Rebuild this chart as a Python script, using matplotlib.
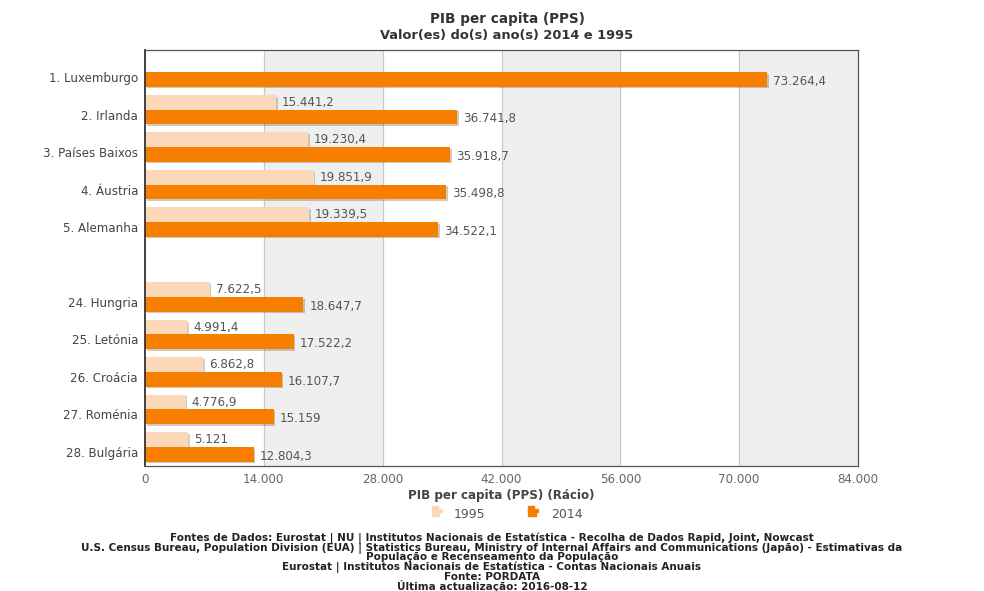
import matplotlib.pyplot as plt
import matplotlib.patheffects as pe
from matplotlib.patches import Patch, Rectangle
from matplotlib.legend_handler import HandlerBase

countries = ['1. Luxemburgo', '2. Irlanda', '3. Países Baixos', '4. Áustria',
             '5. Alemanha', '', '24. Hungria', '25. Letónia', '26. Croácia',
             '27. Roménia', '28. Bulgária']
v1995 = [None, 15441.2, 19230.4, 19851.9, 19339.5, None,
         7622.5, 4991.4, 6862.8, 4776.9, 5121.0]
v2014 = [73264.4, 36741.8, 35918.7, 35498.8, 34522.1, None,
         18647.7, 17522.2, 16107.7, 15159.0, 12804.3]
x_ticks = [0, 14000, 28000, 42000, 56000, 70000, 84000]

C1995 = '#fcd8bb'
C2014 = '#f77f00'
TXT = '#555555'

footer = [
    'Fontes de Dados: Eurostat | NU | Institutos Nacionais de Estatística - Recolha de Dados Rapid, Joint, Nowcast',
    'U.S. Census Bureau, Population Division (EUA) | Statistics Bureau, Ministry of Internal Affairs and Communications (Japão) - Estimativas da',
    'População e Recenseamento da População',
    'Eurostat | Institutos Nacionais de Estatística - Contas Nacionais Anuais',
    'Fonte: PORDATA',
    'Última actualização: 2016-08-12',
]


def fmt(v):
    # portuguese number format: 73.264,4 / 15.159
    s = f'{v:,.1f}'.replace(',', ' ').replace('.', ',').replace(' ', '.')
    if s.endswith(',0'):
        s = s[:-2]
    return s


class BarIcon(HandlerBase):
    # small stacked-bars icon like the highcharts legend
    def create_artists(self, legend, orig, xd, yd, w, h, fontsize, trans):
        c = orig.get_facecolor()
        out = []
        for frac, k in [(0.6, 2), (1.0, 1), (0.75, 0)]:
            out.append(Rectangle((xd, yd + k * h / 3), w * frac, h / 3 * 0.8,
                                 color=c, transform=trans))
        return out


fig = plt.figure(figsize=(9.84, 5.91), dpi=100)
ax = fig.add_axes([145 / 984, 1 - 466 / 591, 713 / 984, 416 / 591])

# alternating bands
for i in range(1, len(x_ticks) - 1, 2):
    ax.axvspan(x_ticks[i], x_ticks[i + 1], color='#efefef', zorder=0)
for t in x_ticks[1:-1]:
    ax.axvline(t, color='#c8c8c8', lw=0.8, zorder=0.5)

shadow = [pe.SimplePatchShadow(offset=(1.2, -1.2), alpha=0.25), pe.Normal()]
h = 0.39
for i, (a, b) in enumerate(zip(v1995, v2014)):
    if a is not None:
        ax.barh(i - h / 2, a, height=h, color=C1995, zorder=2, path_effects=shadow)
        ax.text(a + 700, i - h / 2, fmt(a), va='center', ha='left',
                fontsize=8.6, color=TXT, zorder=3)
    if b is not None:
        ax.barh(i + h / 2, b, height=h, color=C2014, zorder=2, path_effects=shadow)
        ax.text(b + 700, i + h / 2 + 0.05, fmt(b), va='center', ha='left',
                fontsize=8.6, color=TXT, zorder=3)

ax.set_ylim(len(countries) - 0.49, -0.59)
ax.set_yticks(range(len(countries)))
ax.set_yticklabels(countries, fontsize=8.6, color='#444444')
for lab in ax.get_yticklabels():
    lab.set_va('top')
ax.set_xlim(0, 84000)
ax.set_xticks(x_ticks)
ax.set_xticklabels([fmt(t) for t in x_ticks], fontsize=8.6, color='#666666')
ax.tick_params(axis='y', length=0, pad=5)
ax.tick_params(axis='x', length=0, pad=5)
for s in ax.spines.values():
    s.set_color('#555555')
    s.set_linewidth(0.9)
ax.spines['left'].set_color('#333333')
ax.spines['left'].set_linewidth(1.3)

ax.set_xlabel('PIB per capita (PPS) (Rácio)', fontsize=8.6, fontweight='bold',
              color='#444444', labelpad=2)

fig.text(507 / 984, 1 - 19 / 591, 'PIB per capita (PPS)', ha='center', va='center',
         fontsize=9.8, fontweight='bold', color='#333333')
fig.text(507 / 984, 1 - 36 / 591, 'Valor(es) do(s) ano(s) 2014 e 1995', ha='center',
         va='center', fontsize=9.4, fontweight='bold', color='#333333')

handles = [Patch(color=C1995, label='1995'), Patch(color=C2014, label='2014')]
fig.legend(handles=handles, loc='center', bbox_to_anchor=(507 / 984, 1 - 514 / 591),
           ncol=2, frameon=False, fontsize=9, handlelength=0.8, handleheight=1.0,
           handletextpad=1.0, columnspacing=3.4, labelcolor=TXT,
           handler_map={Patch: BarIcon()})

for k, line in enumerate(footer):
    fig.text(492 / 984, 1 - (538.5 + 9.5 * k) / 591, line, ha='center', va='center',
             fontsize=7.5, fontweight='bold', color='#222222')

fig.savefig('out.png', dpi=100)
